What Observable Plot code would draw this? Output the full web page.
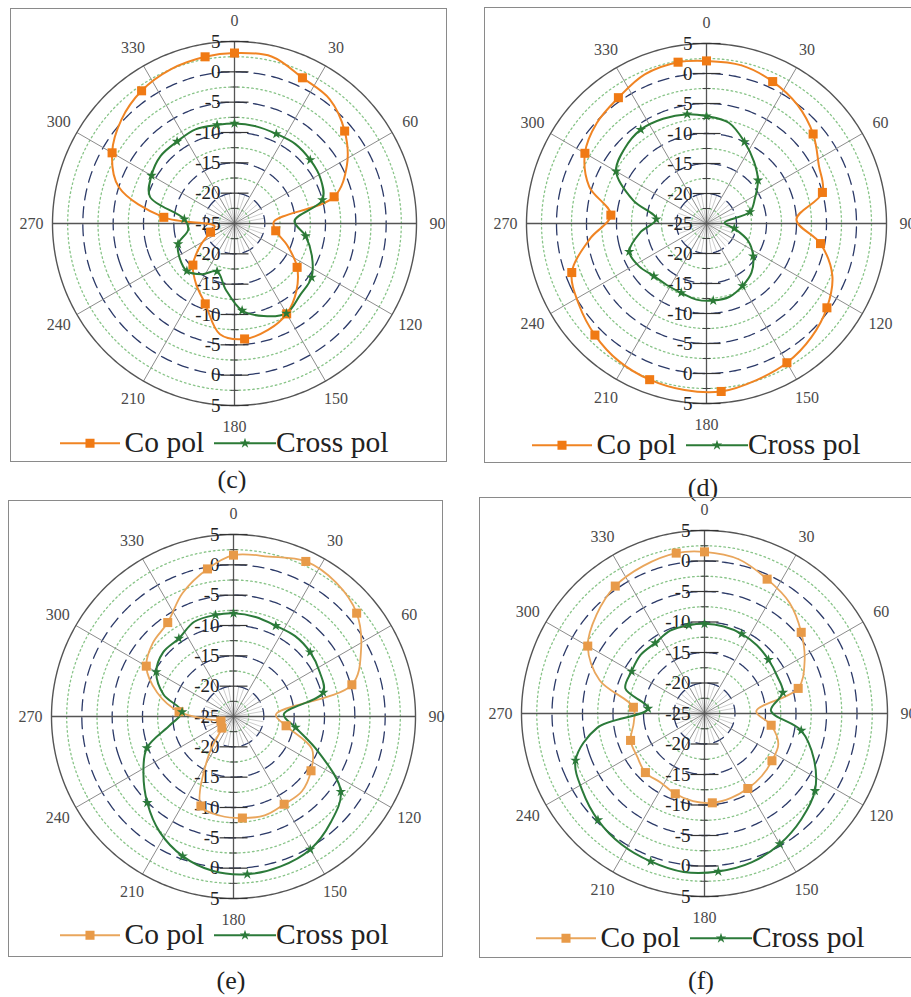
<!DOCTYPE html>
<html><head><meta charset="utf-8">
<script src="https://cdn.jsdelivr.net/npm/d3@7"></script>
<script src="https://cdn.jsdelivr.net/npm/@observablehq/plot@0.6"></script>
<style>
html,body{margin:0;padding:0;background:#fff;overflow:hidden;}
#page{position:relative;width:911px;height:997px;overflow:hidden;font-family:"Liberation Serif","Times New Roman",serif;background:#fff;}
.panel{position:absolute;}
.border{position:absolute;left:0;top:0;right:0;bottom:0;border:1.5px solid #8a8a8a;box-sizing:border-box;}
.wrap{position:absolute;}
.wrap svg{max-width:none !important;background:transparent !important;overflow:visible;}
.cap{position:absolute;font-size:26px;color:#222;transform:translate(-50%,-50%);line-height:1;}
.legend{position:absolute;width:500px;display:flex;align-items:center;justify-content:center;font-size:29.5px;color:#222;white-space:nowrap;transform:translateY(-50%);line-height:1;}
.legend svg{display:block;}
</style>
</head><body><div id="page"></div>
<script>
// ---- data (angle in degrees, clockwise from top; values in dB) ----
const angles = [0,12.5,25,37.5,50,62.5,75,87.5,100,112.5,125,137.5,150,162.5,175,187.5,200,212.5,225,237.5,250,262.5,275,287.5,300,312.5,325,337.5,350];

const coPolC    = [3.1,3.2,1.5,0.8,-1.3,-4.1,-8.0,-18.5,-18.1,-15.6,-12.4,-9.9,-7.8,-6.6,-5.9,-6.6,-10.9,-13.2,-15.3,-18.4,-20.8,-21.7,-13.3,-5.0,-1.7,0.3,1.7,2.5,2.9];
const crossPolC = [-8.5,-8.6,-8.7,-8.5,-8.7,-9.0,-10.0,-15.1,-13.1,-11.2,-9.5,-9.0,-7.9,-9.0,-10.6,-14.0,-16.6,-15.1,-13.9,-14.3,-15.1,-17.3,-16.7,-10.4,-9.2,-8.5,-8.5,-8.2,-8.5];
const coPolD    = [2.1,2.0,1.1,-0.1,-1.8,-3.9,-5.0,-10.0,-5.7,-2.3,-0.5,0.8,1.8,2.4,3.1,3.0,2.7,2.2,1.3,0.2,-1.1,-5.4,-9.0,-4.5,-1.6,-0.2,0.6,1.9,2.3];
const crossPolD = [-7.1,-7.8,-10.0,-12.0,-13.8,-15.9,-17.5,-22.0,-20.3,-17.5,-15.5,-13.9,-13.0,-12.2,-12.1,-12.2,-12.7,-12.8,-12.6,-11.7,-11.3,-13.9,-16.6,-12.2,-7.6,-6.5,-5.9,-6.1,-6.5];
const coPolE    = [1.6,2.0,3.2,2.8,1.5,-1.3,-4.8,-18.0,-16.2,-11.0,-9.4,-8.3,-8.3,-7.9,-8.2,-8.5,-9.3,-17.3,-22.3,-23.0,-22.8,-21.1,-16.0,-11.8,-8.4,-7.0,-6.1,-3.0,-0.3];
const crossPolE = [-8.0,-8.2,-8.5,-8.3,-8.5,-9.0,-9.7,-16.7,-14.6,-9.9,-3.4,-1.3,0.3,0.9,1.1,0.7,-0.5,-2.4,-4.9,-7.4,-9.8,-14.5,-16.5,-12.9,-10.3,-9.3,-9.3,-8.1,-8.0];
const coPolF    = [1.5,0.9,-0.7,-2.1,-4.3,-6.5,-9.1,-16.5,-13.9,-11.9,-11.5,-11.1,-10.8,-10.5,-10.3,-10.5,-11.0,-11.6,-11.3,-11.9,-12.1,-13.3,-13.3,-7.0,-2.9,-1.0,0.5,1.2,1.7];
const crossPolF = [-10.3,-10.4,-10.6,-10.9,-11.3,-11.6,-11.7,-14.1,-8.9,-5.6,-2.9,-1.5,-0.3,0.6,1.0,1.2,0.8,0.4,-0.3,-1.3,-2.5,-7.3,-15.7,-11.4,-11.2,-10.8,-10.9,-10.3,-10.3];

// ---- axis / grid ticks ----
const radialMajor = [-20,-15,-10,-5,0];
const radialMinor = [-22.5,-17.5,-12.5,-7.5,-2.5,2.5];
const radialTopLabels = [5,0,-5,-10,-15,-20,-25];
const radialBottomLabels = [-20,-15,-10,-5,0,5];
const radialMin = -25, radialMax = 5;
const angleTicks = [0,30,60,90,120,150,180,210,240,270,300,330];
const axisAngles = [0,90,180,270];
const otherSpokes = [30,60,120,150,210,240,300,330];
const minorSpokes = [10,20,40,50,70,80,100,110,130,140,160,170,190,200,220,230,250,260,280,290,310,320,340,350];
const legendLabels = ["Co pol","Cross pol"];
const captions = ["(c)","(d)","(e)","(f)"];

const panels = [
  {cap:captions[0], co:coPolC, cross:crossPolC, frame:[10,8,437,454],  center:[224,215], R:182, legend:[214,435], capPos:[232,480], coColor:"#f08423", coMark:"#f07a14", crossColor:"#2b7a36", coWidth:2},
  {cap:captions[1], co:coPolD, cross:crossPolD, frame:[484,7,440,456], center:[222,216], R:180, legend:[212,438], capPos:[703,488], coColor:"#f08423", coMark:"#f07a14", crossColor:"#2b7a36", coWidth:2},
  {cap:captions[2], co:coPolE, cross:crossPolE, frame:[8,500,435,457], center:[225,216], R:182, legend:[216,435], capPos:[231,981], coColor:"#e9a65c", coMark:"#e89a48", crossColor:"#2b7a3a", coWidth:1.8},
  {cap:captions[3], co:coPolF, cross:crossPolF, frame:[479,497,440,461],center:[225,216], R:183, legend:[221,441], capPos:[701,981], coColor:"#e9a65c", coMark:"#e89a48", crossColor:"#2b7a3a", coWidth:1.8}
];

const lon = a => 180 - a;                 // clockwise from top
const lat = v => 90 - (v - radialMin);    // center = -25 dB
const ring = v => d3.geoCircle().center([0, 90]).radius(v - radialMin).precision(1)();
const hTick = {draw(ctx, size){ const r = Math.sqrt(size / Math.PI); ctx.moveTo(-r, 0); ctx.lineTo(r, 0); }};
const serif = "Liberation Serif";

function polar(p) {
  const pad = 40, S = 2 * (p.R + pad);
  const rows = s => angles.map((a, i) => ({angle: a, value: s[i]}));
  const co = rows(p.co), cr = rows(p.cross);
  const isMarker = d => d.angle % 25 === 0;
  const labelLat = 90 - (radialMax - radialMin) * (1 + 21 / p.R);
  const tickRows = vals => vals.flatMap(v => [{a: 0, v}, {a: 180, v}]);
  const labelRows = [
    ...radialTopLabels.map(v => ({a: 0, v})),
    ...radialBottomLabels.map(v => ({a: 180, v}))
  ];
  return Plot.plot({
    width: S, height: S, margin: pad,
    projection: {type: "azimuthal-equidistant", rotate: [0, -90], domain: ring(radialMax), clip: false},
    style: {background: "transparent", maxWidth: "none", overflow: "visible", fontFamily: serif},
    marks: [
      Plot.link(minorSpokes, {x1: lon, y1: () => 90, x2: lon, y2: () => lat(-20), stroke: "#b8b8b8", strokeWidth: 0.7}),
      Plot.geo(radialMinor, {geometry: ring, stroke: "#88c488", strokeWidth: 1.3, strokeDasharray: "1.6,3"}),
      Plot.geo(radialMajor, {geometry: ring, stroke: "#2c3a68", strokeWidth: 1.3, strokeDasharray: "11,7"}),
      Plot.link(otherSpokes, {x1: lon, y1: () => 90, x2: lon, y2: () => lat(radialMax), stroke: "#8c8c8c", strokeWidth: 1}),
      Plot.link(axisAngles, {x1: lon, y1: () => 90, x2: lon, y2: () => lat(radialMax), stroke: "#555", strokeWidth: 1.3}),
      Plot.geo([radialMax], {geometry: ring, stroke: "#555", strokeWidth: 1.4}),
      Plot.dot(tickRows(radialMinor), {x: d => lon(d.a), y: d => lat(d.v), symbol: hTick, r: 4, fill: "none", stroke: "#444", strokeWidth: 1}),
      Plot.dot(tickRows([...radialMajor, radialMax]), {x: d => lon(d.a), y: d => lat(d.v), symbol: hTick, r: 14, fill: "none", stroke: "#333", strokeWidth: 1.2}),
      Plot.text(labelRows, {x: d => lon(d.a), y: d => lat(d.v), text: d => String(d.v), textAnchor: "end", dx: -14, fontSize: 19, fontFamily: serif, fill: "#222"}),
      Plot.text(angleTicks, {x: lon, y: () => labelLat, text: d => String(d), fontSize: 16, fontFamily: serif, fill: "#4a4a4a"}),
      Plot.line(co, {x: d => lon(d.angle), y: d => lat(d.value), stroke: p.coColor, strokeWidth: p.coWidth, curve: "catmull-rom-closed"}),
      Plot.line(cr, {x: d => lon(d.angle), y: d => lat(d.value), stroke: p.crossColor, strokeWidth: 2, curve: "catmull-rom-closed"}),
      Plot.dot(co.filter(isMarker), {x: d => lon(d.angle), y: d => lat(d.value), symbol: "square", r: 5.1, fill: p.coMark, stroke: "none"}),
      Plot.dot(cr.filter(isMarker), {x: d => lon(d.angle), y: d => lat(d.value), symbol: "star", r: 3.3, fill: p.crossColor, stroke: "none"})
    ]
  });
}

function swatch(color, markColor, symbol, size, w) {
  const ns = "http://www.w3.org/2000/svg";
  const svg = document.createElementNS(ns, "svg");
  svg.setAttribute("width", w); svg.setAttribute("height", 16);
  const line = document.createElementNS(ns, "line");
  line.setAttribute("x1", 0); line.setAttribute("x2", w); line.setAttribute("y1", 8); line.setAttribute("y2", 8);
  line.setAttribute("stroke", color); line.setAttribute("stroke-width", 2);
  svg.appendChild(line);
  const path = document.createElementNS(ns, "path");
  path.setAttribute("d", d3.symbol(symbol, size)());
  path.setAttribute("transform", `translate(${w / 2},8)`);
  path.setAttribute("fill", markColor);
  svg.appendChild(path);
  return svg;
}

const page = document.getElementById("page");
for (const p of panels) {
  const [fx, fy, fw, fh] = p.frame;
  const panel = document.createElement("div");
  panel.className = "panel";
  Object.assign(panel.style, {left: fx + "px", top: fy + "px", width: fw + "px", height: fh + "px"});
  const border = document.createElement("div"); border.className = "border"; panel.appendChild(border);
  const pad = 40, S = 2 * (p.R + pad);
  const wrap = document.createElement("div"); wrap.className = "wrap";
  Object.assign(wrap.style, {left: (p.center[0] - S / 2) + "px", top: (p.center[1] - S / 2) + "px", width: S + "px", height: S + "px"});
  wrap.appendChild(polar(p));
  panel.appendChild(wrap);
  const lg = document.createElement("div"); lg.className = "legend";
  Object.assign(lg.style, {left: (p.legend[0] - 250) + "px", top: p.legend[1] + "px"});
  const t1 = document.createElement("span"); t1.textContent = legendLabels[0]; t1.style.margin = "0 10px 0 5px";
  const t2 = document.createElement("span"); t2.textContent = legendLabels[1];
  lg.appendChild(swatch(p.coColor, p.coMark, d3.symbolSquare, 82, 60));
  lg.appendChild(t1);
  lg.appendChild(swatch(p.crossColor, p.crossColor, d3.symbolStar, 34, 62));
  lg.appendChild(t2);
  panel.appendChild(lg);
  page.appendChild(panel);
  const cap = document.createElement("div"); cap.className = "cap"; cap.textContent = p.cap;
  Object.assign(cap.style, {left: p.capPos[0] + "px", top: p.capPos[1] + "px"});
  page.appendChild(cap);
}
</script>
</body></html>
